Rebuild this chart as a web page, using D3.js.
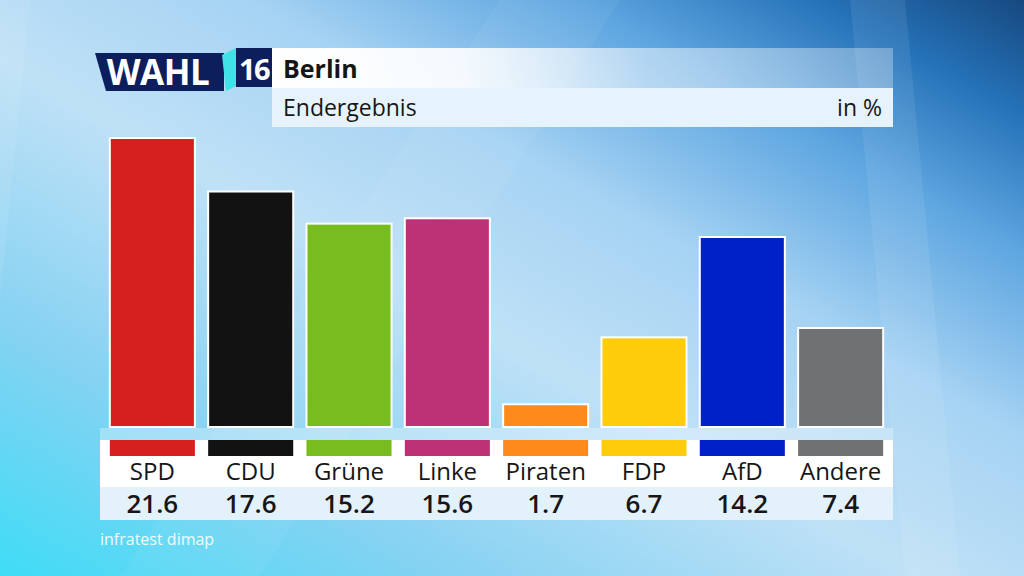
<!DOCTYPE html>
<html>
<head>
<meta charset="utf-8">
<script src="https://cdn.jsdelivr.net/npm/d3@7"></script>
<style>
  html, body { margin: 0; padding: 0; overflow: hidden; }
  svg { display: block; font-family: "Open Sans", "Noto Sans", sans-serif; }
</style>
</head>
<body>
<svg id="chart" width="1024" height="576"></svg>
<script>
// Data
const PARTIES = ["SPD", "CDU", "Grüne", "Linke", "Piraten", "FDP", "AfD", "Andere"];
const VALUES = [21.6, 17.6, 15.2, 15.6, 1.7, 6.7, 14.2, 7.4];
const COLORS = ["#d6201f", "#121212", "#78bc1e", "#bd3176", "#fd8a1a", "#fecc0a", "#0021c8", "#707173"];
const TITLE = "Berlin";
const SUBTITLE = "Endergebnis";
const UNIT = "in %";
const SOURCE = "infratest dimap";

const svg = d3.select("#chart");
const W = 1024, H = 576;
const defs = svg.append("defs");

// background
const bg = defs.append("linearGradient").attr("id", "bg")
  .attr("x1", "0%").attr("y1", "100%").attr("x2", "100%").attr("y2", "0%");
[["0%", "#3fdcf6"], ["22%", "#86d2f2"], ["45%", "#bfe1f6"], ["62%", "#a6d3f3"],
 ["78%", "#5ea6e0"], ["90%", "#2572b8"], ["100%", "#17497f"]]
  .forEach(s => bg.append("stop").attr("offset", s[0]).attr("stop-color", s[1]));

const head = defs.append("linearGradient").attr("id", "head")
  .attr("x1", "0%").attr("y1", "0%").attr("x2", "100%").attr("y2", "0%");
[["0%", "#ffffff", 1], ["30%", "#ffffff", 0.9], ["60%", "#ffffff", 0.5], ["100%", "#ffffff", 0.3]]
  .forEach(s => head.append("stop").attr("offset", s[0]).attr("stop-color", s[1]).attr("stop-opacity", s[2]));

svg.append("rect").attr("width", W).attr("height", H).attr("fill", "url(#bg)");

// soft diagonal streaks
svg.append("polygon").attr("points", "850,0 905,0 960,576 905,576")
  .attr("fill", "#ffffff").attr("opacity", 0.08);
svg.append("polygon").attr("points", "0,0 30,0 0,300")
  .attr("fill", "#ffffff").attr("opacity", 0.08);
svg.append("polygon").attr("points", "120,576 500,0 620,0 260,576")
  .attr("fill", "#ffffff").attr("opacity", 0.05);

// scales
const x = d3.scaleBand().domain(PARTIES).range([100, 893]).paddingInner(0.135).paddingOuter(0.1);
const y = d3.scaleLinear().domain([0, 21.6]).range([427, 138]);

// header
svg.append("polygon").attr("points", "95,53 224,53 224,91 106,91").attr("fill", "#0c1f5c");
svg.append("polygon").attr("points", "222,55 236,48 236,86 226,91").attr("fill", "#3de3e6");
svg.append("rect").attr("x", 236).attr("y", 48).attr("width", 36).attr("height", 39).attr("fill", "#0c1f5c");
svg.append("text").attr("x", 158).attr("y", 85).attr("text-anchor", "middle")
  .attr("fill", "#fff").attr("font-weight", 700).attr("font-size", 35).attr("letter-spacing", -0.5)
  .text("WAHL");
svg.append("text").attr("x", 254).attr("y", 80).attr("text-anchor", "middle")
  .attr("fill", "#fff").attr("font-weight", 700).attr("font-size", 29).attr("letter-spacing", -1.5)
  .text("16");

svg.append("rect").attr("x", 272).attr("y", 48).attr("width", 621).attr("height", 40).attr("fill", "url(#head)");
svg.append("rect").attr("x", 272).attr("y", 88).attr("width", 621).attr("height", 39).attr("fill", "#e7f3fc");
svg.append("text").attr("x", 283).attr("y", 78).attr("fill", "#161616")
  .attr("font-weight", 700).attr("font-size", 25).text(TITLE);
svg.append("text").attr("x", 283).attr("y", 116).attr("fill", "#161616")
  .attr("font-size", 23).text(SUBTITLE);
svg.append("text").attr("x", 882).attr("y", 116).attr("fill", "#161616").attr("text-anchor", "end")
  .attr("font-size", 23).text(UNIT);

// bars
svg.selectAll(".bar")
  .data(PARTIES)
  .enter().append("rect")
  .attr("class", "bar")
  .attr("x", d => x(d))
  .attr("y", (d, i) => y(VALUES[i]))
  .attr("width", x.bandwidth())
  .attr("height", (d, i) => y(0) - y(VALUES[i]))
  .attr("fill", (d, i) => COLORS[i])
  .attr("stroke", "#ffffff")
  .attr("stroke-width", 2);

// base strip + label panel
svg.append("rect").attr("x", 100).attr("y", 428).attr("width", 793).attr("height", 12)
  .attr("fill", "#ffffff").attr("opacity", 0.3);
svg.append("rect").attr("x", 100).attr("y", 440).attr("width", 793).attr("height", 47).attr("fill", "#ffffff");
svg.append("rect").attr("x", 100).attr("y", 487).attr("width", 793).attr("height", 33).attr("fill", "#e3f1fb");

svg.selectAll(".chip")
  .data(PARTIES)
  .enter().append("rect")
  .attr("class", "chip")
  .attr("x", d => x(d))
  .attr("y", 440)
  .attr("width", x.bandwidth())
  .attr("height", 16)
  .attr("fill", (d, i) => COLORS[i]);

svg.selectAll(".label")
  .data(PARTIES)
  .enter().append("text")
  .attr("class", "label")
  .attr("x", d => x(d) + x.bandwidth() / 2)
  .attr("y", 480)
  .attr("text-anchor", "middle")
  .attr("font-size", 24)
  .attr("fill", "#161616")
  .text(d => d);

svg.selectAll(".value")
  .data(PARTIES)
  .enter().append("text")
  .attr("class", "value")
  .attr("x", d => x(d) + x.bandwidth() / 2)
  .attr("y", 513)
  .attr("text-anchor", "middle")
  .attr("font-size", 26)
  .attr("font-weight", 600)
  .attr("fill", "#161616")
  .text((d, i) => VALUES[i].toFixed(1));

svg.append("text").attr("x", 100).attr("y", 545).attr("fill", "#ffffff").attr("opacity", 0.9)
  .attr("font-size", 16).text(SOURCE);
</script>
</body>
</html>
